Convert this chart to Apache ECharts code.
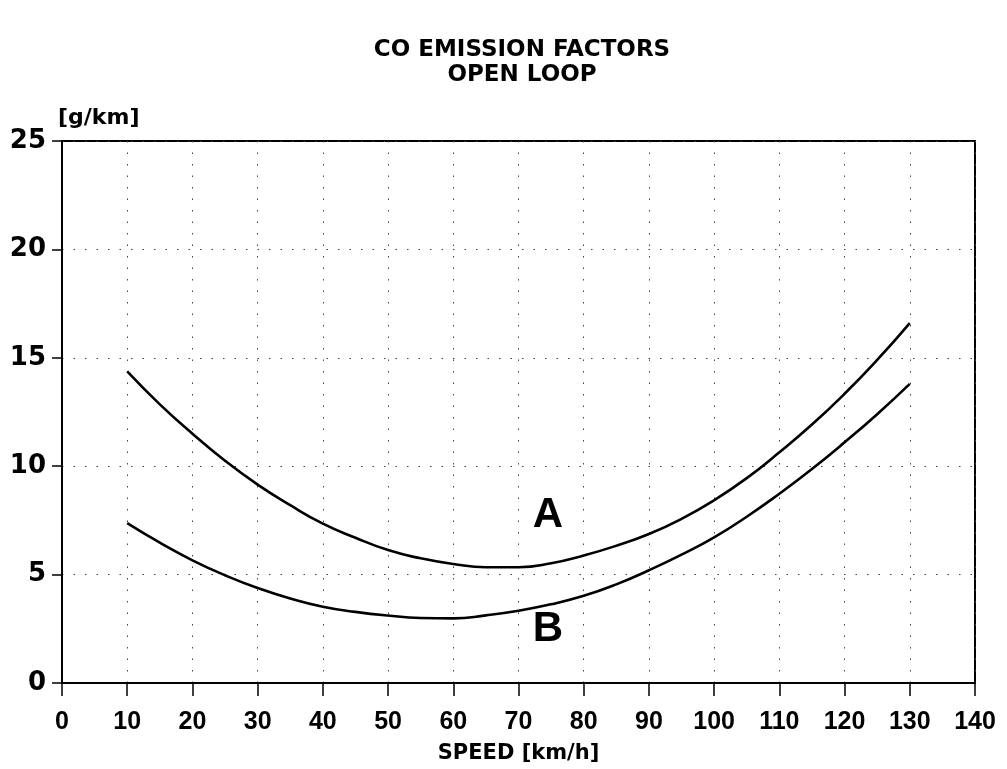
<!DOCTYPE html>
<html>
<head>
<meta charset="utf-8">
<title>CO Emission Factors – Open Loop</title>
<script src="https://cdn.jsdelivr.net/npm/echarts@6/dist/echarts.min.js"></script>
<style>
  html, body { margin: 0; padding: 0; background: #fff; }
  #chart { width: 1007px; height: 769px; }
</style>
</head>
<body>
<div id="chart"></div>
<script>
// Speed points (km/h) where the curves were sampled
const speeds = [10, 15, 20, 25, 30, 35, 40, 45, 50, 55, 60, 65, 70,
                75, 80, 85, 90, 95, 100, 105, 110, 115, 120, 125, 130];
// Curve A – CO emission factor (g/km)
const curveA = [14.37, 12.85, 11.5, 10.25, 9.15, 8.2, 7.35, 6.7, 6.13, 5.75, 5.49, 5.34, 5.34,
                5.52, 5.88, 6.33, 6.87, 7.57, 8.43, 9.45, 10.64, 11.92, 13.34, 14.9, 16.6];
// Curve B – CO emission factor (g/km)
const curveB = [7.37, 6.47, 5.66, 4.97, 4.38, 3.9, 3.52, 3.28, 3.11, 3.0, 2.98, 3.12, 3.33,
                3.63, 4.02, 4.55, 5.2, 5.92, 6.72, 7.67, 8.73, 9.87, 11.1, 12.4, 13.8];
// Curve name labels: [speed, g/km, text]
const curveLabels = [[74.5, 7.75, 'A'], [74.5, 2.45, 'B']];

const titleLines = ['CO EMISSION FACTORS', 'OPEN LOOP'];
const yUnit = '[g/km]';
const xName = 'SPEED [km/h]';

const wide = 'DejaVu Sans';
const narrow = '"Liberation Sans Narrow", "Liberation Sans"';

const chart = echarts.init(document.getElementById('chart'));

const pair = (xs, ys) => xs.map((x, i) => [x, ys[i]]);

const gridLine = {
  show: true,
  lineStyle: { color: '#444', width: 1, type: [1.5, 10] }
};

const curveStyle = {
  type: 'line', smooth: 0.5, smoothMonotone: 'none', symbol: 'none',
  lineStyle: { color: '#000', width: 2.6 }
};

chart.setOption({
  animation: false,
  backgroundColor: '#fff',
  title: {
    text: titleLines.join('\n'),
    left: 517,
    textAlign: 'center',
    top: 33,
    textStyle: {
      fontFamily: wide, fontWeight: 'bold', fontSize: 23,
      lineHeight: 25, color: '#000'
    }
  },
  grid: {
    left: 62, right: 32, top: 141, bottom: 85,
    show: true, borderColor: '#000', borderWidth: 2, backgroundColor: 'transparent'
  },
  xAxis: {
    type: 'value',
    min: 0, max: 140, interval: 10,
    name: xName,
    nameLocation: 'middle',
    nameGap: 60,
    nameTextStyle: { fontFamily: wide, fontWeight: 'bold', fontSize: 21, color: '#000' },
    axisLine: { show: true, lineStyle: { color: '#000', width: 2 } },
    axisTick: { show: true, inside: false, length: 13, lineStyle: { color: '#000', width: 1.5 } },
    axisLabel: {
      margin: 27, color: '#000', fontFamily: narrow, fontWeight: 'bold', fontSize: 25,
      showMinLabel: true, showMaxLabel: true
    },
    splitLine: gridLine
  },
  yAxis: {
    type: 'value',
    min: 0, max: 25, interval: 5,
    name: yUnit,
    nameLocation: 'end',
    nameGap: 12,
    nameTextStyle: {
      fontFamily: wide, fontWeight: 'bold', fontSize: 22, color: '#000',
      align: 'left', padding: [0, 0, 0, -4]
    },
    axisLine: { show: true, lineStyle: { color: '#000', width: 2 } },
    axisTick: { show: true, inside: false, length: 10, lineStyle: { color: '#000', width: 1.5 } },
    axisLabel: {
      margin: 16, color: '#000', fontFamily: wide, fontWeight: 'bold', fontSize: 26
    },
    splitLine: gridLine
  },
  series: [
    Object.assign({ name: 'A', data: pair(speeds, curveA) }, curveStyle),
    Object.assign({ name: 'B', data: pair(speeds, curveB) }, curveStyle),
    {
      name: 'curve labels', type: 'scatter', data: curveLabels,
      symbolSize: 0,
      itemStyle: { opacity: 1 },
      label: {
        show: true, position: 'inside',
        formatter: p => p.value[2],
        fontFamily: '"Liberation Sans"', fontWeight: 'bold', fontSize: 42,
        color: '#000', opacity: 1, textBorderWidth: 0
      }
    }
  ]
});
</script>
</body>
</html>
